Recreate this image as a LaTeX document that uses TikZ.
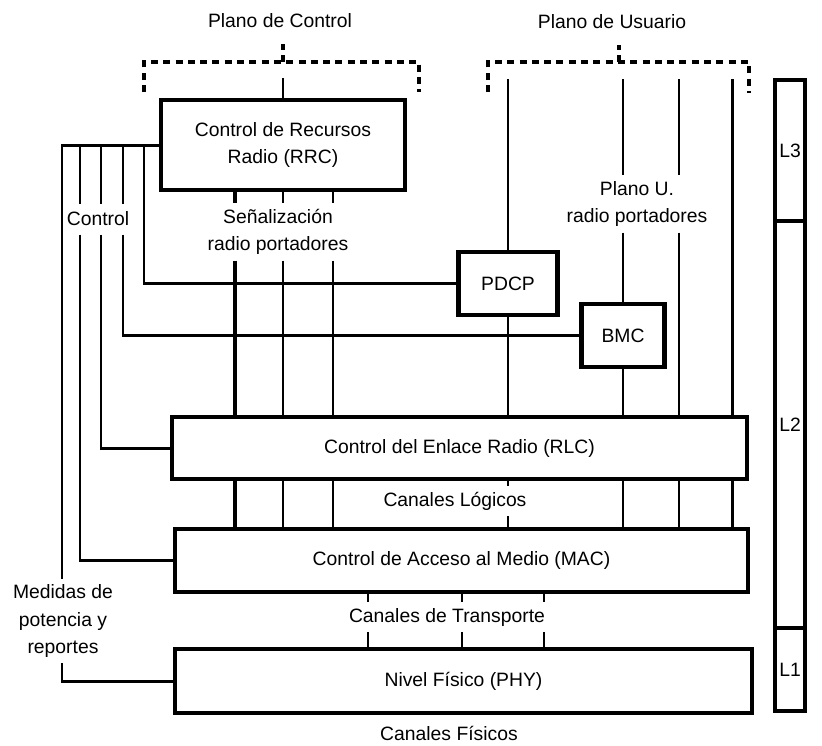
\documentclass[tikz,border=0pt]{standalone}
\usepackage{fontspec}
\setmainfont{Liberation Sans}
\usepackage{tikz}

\begin{document}
\begin{tikzpicture}[x=0.2mm,y=-0.2mm,line width=1.7pt,font=\fontsize{11}{15.5}\selectfont,
  box/.style={draw,line width=2.5pt,align=center,inner sep=0pt},
  lbl/.style={align=center,inner sep=2.5pt},
  sigline/.style={line width=2.5pt},
  planebr/.style={line width=1.9pt,dash pattern=on 4pt off 3pt}]
\useasboundingbox (0,0) rectangle (822,745);
\node (pc) at (280,21) {Plano de Control};
\node (pu) at (612,22) {Plano de Usuario};
\node [box,minimum width=48.8mm,minimum height=18mm] (rrc) at (283,145) {Control de Recursos\\Radio (RRC)};
\node [box,minimum width=19.8mm,minimum height=12.6mm] (pdcp) at (508,283.5) {PDCP};
\node [box,minimum width=16.6mm,minimum height=12.6mm] (bmc) at (623,335.5) {BMC};
\node [box,minimum width=115mm,minimum height=12.4mm] (rlc) at (459.5,448) {Control del Enlace Radio (RLC)};
\node [box,minimum width=114.6mm,minimum height=12.6mm] (mac) at (461.5,560.5) {Control de Acceso al Medio (MAC)};
\node [box,minimum width=115.4mm,minimum height=12.8mm] (phy) at (463.5,681) {Nivel Físico (PHY)};
\node [box,minimum width=6mm,minimum height=28.2mm] (l3) at (790,150.5) {L3};
\node [box,minimum width=6mm,minimum height=81.4mm] (l2) at (790,424.5) {L2};
\node [box,minimum width=6mm,minimum height=16.6mm] (l1) at (790,669.5) {L1};
\node [lbl] (sig) at (278,232) {Señalización\\radio portadores};
\node [lbl] (plu) at (637,204) {Plano U.\\radio portadores};
\node [lbl,minimum height=5.6mm] (ctl) at (98,219) {Control};
\node [lbl] (log) at (455,501) {Canales Lógicos};
\node [lbl] (trn) at (447,617) {Canales de Transporte};
\node [lbl] (med) at (63,621) {Medidas de\\potencia y\\reportes};
\node (fis) at (449,733) {Canales Físicos};
\coordinate (c1) at (62,0);
\coordinate (c2) at (80,0);
\coordinate (c3) at (101,0);
\coordinate (c4) at (123,0);
\coordinate (c5) at (144,0);
\coordinate (s1) at (235,0);
\coordinate (s2) at (283,0);
\coordinate (s3) at (333,0);
\coordinate (u1) at (508,0);
\coordinate (u2) at (623,0);
\coordinate (u3) at (679,0);
\coordinate (u4) at (732,0);
\coordinate (t1) at (368,0);
\coordinate (t2) at (462,0);
\coordinate (t3) at (544,0);
\coordinate (ctop) at (283,78);
\coordinate (utop) at (0,79);
\draw [planebr] (144,92) |- (419,62) -- (419,92);
\draw [planebr] (283,62) -- (283,44);
\draw [planebr] (488,92) |- (749,62) -- (749,93);
\draw [planebr] (619,62) -- (619,45);
\draw (rrc.north) -- (ctop);
\draw (rrc.west) -| (c1 |- med.north);
\draw (med.south -| c1) |- (phy.west);
\draw (c2 |- rrc.west) -- (c2 |- ctl.north);
\draw (c2 |- ctl.south) |- (mac.west);
\draw (c3 |- rrc.west) -- (c3 |- ctl.north);
\draw (c3 |- ctl.south) |- (rlc.west);
\draw (c4 |- rrc.west) -- (c4 |- ctl.north);
\draw (c4 |- ctl.south) |- (bmc.west);
\draw (c5 |- rrc.west) |- (pdcp.west);
\draw [sigline] (rrc.south -| s1) -- (sig.north -| s1) (sig.south -| s1) -- (rlc.north -| s1)
  (rlc.south -| s1) -- (mac.north -| s1);
\foreach \s in {s2,s3}
  \draw (rrc.south -| \s) -- (sig.north -| \s) (sig.south -| \s) -- (rlc.north -| \s)
    (rlc.south -| \s) -- (mac.north -| \s);
\draw (u1 |- utop) -- (pdcp.north) (pdcp.south) -- (rlc.north -| u1)
  (rlc.south -| u1) -- (log.north -| u1) (log.south -| u1) -- (mac.north -| u1);
\draw (u2 |- utop) -- (plu.north -| u2) (plu.south -| u2) -- (bmc.north)
  (bmc.south) -- (rlc.north -| u2) (rlc.south -| u2) -- (mac.north -| u2);
\draw (u3 |- utop) -- (plu.north -| u3) (plu.south -| u3) -- (rlc.north -| u3)
  (rlc.south -| u3) -- (mac.north -| u3);
\draw (u4 |- utop) -- (rlc.north -| u4) (rlc.south -| u4) -- (mac.north -| u4);
\foreach \t in {t1,t2,t3}
  \draw (mac.south -| \t) -- (trn.north -| \t) (trn.south -| \t) -- (phy.north -| \t);
\end{tikzpicture}
\end{document}
